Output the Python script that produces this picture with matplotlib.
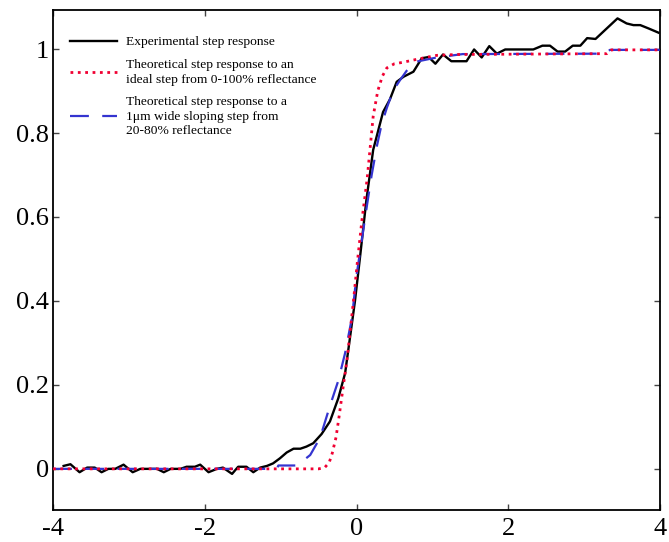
import numpy as np
import matplotlib
matplotlib.use("Agg")
import matplotlib.pyplot as plt

plt.rcParams['font.family'] = ['Liberation Serif', 'DejaVu Serif']
plt.rcParams['axes.unicode_minus'] = False

exp_x = [-3.86, -3.77, -3.65, -3.55, -3.45, -3.36, -3.27, -3.18, -3.07, -2.95,
         -2.85, -2.74, -2.63, -2.54, -2.45, -2.32, -2.24, -2.13, -2.06, -1.95,
         -1.84, -1.76, -1.64, -1.56, -1.45, -1.36, -1.27, -1.18, -1.10, -1.01,
         -0.92, -0.83, -0.74, -0.66, -0.57, -0.46, -0.35, -0.24, -0.15, -0.09,
         -0.02, 0.05, 0.13, 0.22, 0.35, 0.44, 0.53, 0.62, 0.75, 0.86,
         0.95, 1.04, 1.14, 1.25, 1.45, 1.55, 1.65, 1.75, 1.85, 1.96,
         2.33, 2.45, 2.55, 2.65, 2.75, 2.85, 2.95, 3.04, 3.15, 3.28,
         3.44, 3.56, 3.65, 3.74, 3.85, 3.98]
exp_y = [0.007, 0.011, -0.008, 0.003, 0.003, -0.008, 0.0, 0.0, 0.010, -0.008,
         0.0, 0.0, 0.0, -0.008, 0.0, 0.0, 0.005, 0.005, 0.010, -0.008,
         0.0, 0.003, -0.012, 0.005, 0.005, -0.008, 0.003, 0.007, 0.013, 0.025,
         0.039, 0.048, 0.048, 0.053, 0.061, 0.083, 0.113, 0.168, 0.228, 0.307,
         0.400, 0.510, 0.640, 0.760, 0.850, 0.880, 0.922, 0.934, 0.946, 0.978,
         0.981, 0.965, 0.987, 0.971, 0.971, 0.999, 0.980, 1.007, 0.989, 0.999,
         0.999, 1.008, 1.008, 0.994, 0.994, 1.008, 1.008, 1.026, 1.024, 1.046,
         1.073, 1.061, 1.057, 1.057, 1.049, 1.039]

# theoretical response, ideal 0-100% step
ideal_x = [-4.0, -0.5, -0.42, -0.36, -0.32, -0.27, -0.23, -0.18, -0.125, -0.04,
           0.01, 0.07, 0.14, 0.22, 0.28, 0.34, 0.40, 0.50, 0.60, 0.86,
           1.06, 1.32, 3.30, 3.36, 4.0]
ideal_y = [0.0, 0.0, 0.003, 0.015, 0.037, 0.075, 0.124, 0.19, 0.26, 0.40,
           0.49, 0.59, 0.69, 0.84, 0.90, 0.935, 0.955, 0.965, 0.968, 0.978,
           0.985, 0.987, 0.989, 0.998, 0.998]

# theoretical response, 1 um sloping 20-80% step
slope_x = [-4.0, -1.05, -1.03, -0.80, -0.70, -0.61, -0.48, -0.35, -0.24, -0.15,
           -0.06, 0.0, 0.07, 0.14, 0.20, 0.27, 0.33, 0.40, 0.48, 0.57,
           0.66, 0.79, 1.06, 1.40, 3.28, 3.34, 4.0]
slope_y = [0.0, 0.0, 0.008, 0.008, 0.02, 0.033, 0.074, 0.15, 0.21, 0.276,
           0.36, 0.46, 0.545, 0.63, 0.70, 0.77, 0.82, 0.86, 0.90, 0.925,
           0.948, 0.97, 0.98, 0.988, 0.989, 0.998, 0.998]

fig = plt.figure(figsize=(6.69, 5.42), dpi=100)
ax = fig.add_axes([53/669, 32/542, 607/669, 500/542])

l1, = ax.plot(exp_x, exp_y, color='black', lw=1.7, zorder=2)
l3, = ax.plot(slope_x, slope_y, color='#3434d0', lw=1.6, dashes=(8.5, 6), zorder=3)
l2, = ax.plot(ideal_x, ideal_y, color='#f00032', lw=2.0, ls=':', zorder=4)

ax.set_xlim(-4, 4)
ax.set_ylim(-0.098, 1.093)
ax.set_xticks([-4, -2, 0, 2, 4])
ax.set_xticklabels(['-4', '-2', '0', '2', '4'])
ax.set_yticks([0, 0.2, 0.4, 0.6, 0.8, 1.0])
ax.set_yticklabels(['0', '0.2', '0.4', '0.6', '0.8', '1'])
ax.tick_params(direction='in', length=4.5, width=1.0, labelsize=19,
               top=True, right=True, color='#444444')
ax.tick_params(axis='y', pad=3)
ax.tick_params(axis='x', pad=6)
for s in ax.spines.values():
    s.set_linewidth(1.3)

leg = ax.legend([l1, l2, l3],
                ['Experimental step response',
                 'Theoretical step response to an\nideal step from 0-100% reflectance',
                 'Theoretical step response to a\n1\u03bcm wide sloping step from\n20-80% reflectance'],
                loc='upper left', bbox_to_anchor=(0.028, 0.948), frameon=False,
                fontsize=9.7, handlelength=3.5, handletextpad=0.65, labelspacing=0.77,
                borderpad=0, borderaxespad=0)
for t in leg.get_texts():
    t.set_linespacing(1.3)

fig.savefig('out.png', dpi=100)
